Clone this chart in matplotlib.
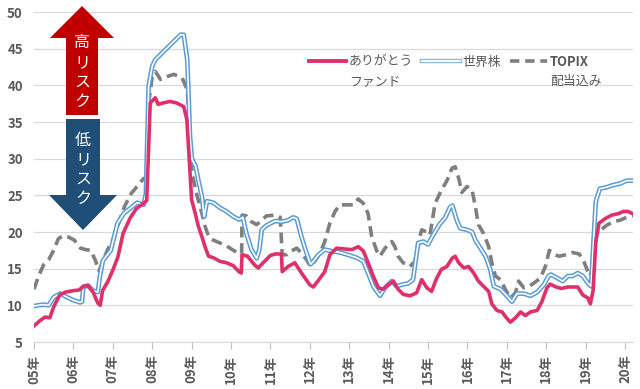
import matplotlib
matplotlib.use("Agg")
import matplotlib.pyplot as plt
from matplotlib.patches import Polygon
from matplotlib.lines import Line2D

plt.rcParams['font.family'] = ['Noto Sans CJK JP', 'DejaVu Sans']

# ---- data (decimal year, volatility %) ----
arigato_t = [2005.0, 2005.15, 2005.28, 2005.4, 2005.5, 2005.65, 2005.8, 2006.0, 2006.15, 2006.25, 2006.37,
             2006.5, 2006.62, 2006.68, 2006.74, 2006.87, 2007.0, 2007.13, 2007.26, 2007.44, 2007.6, 2007.78,
             2007.86, 2007.9, 2007.95, 2008.08, 2008.15, 2008.28, 2008.45, 2008.62, 2008.8, 2008.88, 2008.94,
             2009.0, 2009.09, 2009.17, 2009.26, 2009.34, 2009.43, 2009.55, 2009.72, 2009.89, 2010.06, 2010.2,
             2010.26, 2010.28, 2010.42, 2010.6, 2010.69, 2010.85, 2011.0, 2011.12, 2011.28, 2011.3, 2011.45,
             2011.62, 2011.79, 2012.0, 2012.09, 2012.26, 2012.38, 2012.51, 2012.68, 2012.85, 2013.07, 2013.23,
             2013.36, 2013.48, 2013.61, 2013.74, 2013.86, 2013.99, 2014.12, 2014.24, 2014.37, 2014.54, 2014.71,
             2014.84, 2014.97, 2015.09, 2015.22, 2015.34, 2015.48, 2015.61, 2015.69, 2015.78, 2015.91, 2016.03,
             2016.16, 2016.28, 2016.41, 2016.54, 2016.62, 2016.75, 2016.88, 2016.96, 2017.09, 2017.22, 2017.35,
             2017.47, 2017.6, 2017.77, 2017.89, 2018.02, 2018.1, 2018.25, 2018.38, 2018.55, 2018.8, 2018.93,
             2019.06, 2019.12, 2019.19, 2019.26, 2019.34, 2019.49, 2019.66, 2019.83, 2019.96, 2020.08, 2020.2]
arigato_v = [7.2, 7.9, 8.4, 8.3, 9.8, 11.4, 11.8, 12.0, 12.1, 12.6, 12.7,
             11.8, 10.3, 10.0, 12.0, 13.2, 14.8, 16.6, 19.8, 21.9, 23.2, 23.9,
             24.3, 30.0, 37.6, 38.3, 37.4, 37.6, 37.8, 37.6, 37.1, 35.3, 29.9,
             24.4, 22.6, 20.8, 19.4, 18.0, 16.7, 16.5, 16.0, 15.8, 15.4, 14.6,
             14.4, 16.9, 16.7, 15.5, 15.1, 16.0, 16.8, 17.0, 17.0, 14.6, 15.3,
             15.8, 14.4, 12.8, 12.5, 13.7, 14.6, 16.9, 17.8, 17.7, 17.6, 18.0,
             17.4, 15.8, 14.0, 12.4, 12.2, 12.8, 13.3, 12.2, 11.5, 11.3, 11.7,
             13.5, 12.4, 11.9, 13.7, 14.9, 15.3, 16.4, 16.7, 15.8, 15.1, 15.3,
             14.4, 13.3, 12.6, 11.9, 10.2, 9.3, 9.1, 8.5, 7.7, 8.3, 9.1,
             8.6, 9.1, 9.3, 10.5, 12.4, 12.9, 12.5, 12.3, 12.5, 12.5, 11.4,
             11.0, 10.2, 12.0, 18.7, 21.2, 21.8, 22.3, 22.5, 22.8, 22.8, 22.5]

world_t = [2005.0, 2005.1, 2005.24, 2005.37, 2005.5, 2005.67, 2005.84, 2006.0, 2006.17, 2006.22, 2006.25,
           2006.37, 2006.5, 2006.62, 2006.67, 2006.75, 2006.95, 2007.12, 2007.29, 2007.46, 2007.62, 2007.78,
           2007.84, 2007.91, 2008.0, 2008.08, 2008.21, 2008.38, 2008.55, 2008.72, 2008.8, 2008.89, 2008.96,
           2009.01, 2009.1, 2009.17, 2009.26, 2009.32, 2009.39, 2009.55, 2009.72, 2009.89, 2010.06, 2010.2,
           2010.3, 2010.39, 2010.52, 2010.65, 2010.72, 2010.78, 2010.9, 2011.12, 2011.28, 2011.45, 2011.58,
           2011.67, 2011.79, 2011.92, 2012.02, 2012.09, 2012.22, 2012.38, 2012.55, 2012.77, 2012.9, 2013.02,
           2013.19, 2013.36, 2013.48, 2013.61, 2013.78, 2013.91, 2014.08, 2014.2, 2014.33, 2014.5, 2014.62,
           2014.75, 2014.88, 2015.0, 2015.13, 2015.3, 2015.43, 2015.56, 2015.62, 2015.73, 2015.82, 2015.99,
           2016.12, 2016.2, 2016.33, 2016.46, 2016.58, 2016.67, 2016.84, 2017.0, 2017.13, 2017.26, 2017.43,
           2017.6, 2017.77, 2017.94, 2018.06, 2018.12, 2018.29, 2018.42, 2018.55, 2018.67, 2018.8, 2018.93,
           2019.06, 2019.14, 2019.2, 2019.26, 2019.36, 2019.53, 2019.7, 2019.87, 2020.04, 2020.2]
world_v = [9.9, 10.0, 10.1, 10.0, 11.1, 11.6, 11.1, 10.7, 10.4, 10.5, 12.5,
           12.7, 12.0, 11.8, 13.9, 16.1, 17.5, 21.2, 22.6, 23.3, 24.0, 23.7,
           25.2, 39.9, 42.6, 43.5, 44.2, 45.1, 46.0, 46.9, 46.9, 43.5, 33.0,
           29.9, 29.0, 27.1, 24.9, 22.1, 24.2, 24.0, 23.3, 22.8, 22.1, 21.7,
           22.0, 19.8, 17.6, 16.4, 17.6, 20.3, 20.9, 21.5, 21.4, 21.6, 22.0,
           21.8, 19.3, 17.1, 15.6, 16.0, 16.9, 17.6, 17.4, 17.2, 17.0, 16.8,
           16.5, 16.0, 14.4, 12.6, 11.3, 12.4, 13.3, 12.6, 12.8, 13.0, 13.5,
           18.5, 18.7, 18.3, 19.6, 21.1, 21.9, 23.4, 23.6, 21.6, 20.5, 20.3,
           20.0, 18.9, 17.8, 16.7, 14.9, 12.6, 12.2, 11.3, 10.5, 11.6, 11.6,
           11.3, 11.8, 12.8, 14.0, 14.2, 13.7, 13.3, 14.0, 14.0, 14.4, 14.0,
           13.0, 12.6, 18.7, 24.2, 25.9, 26.1, 26.4, 26.6, 27.0, 27.0]

topix_t = [2005.0, 2005.11, 2005.24, 2005.37, 2005.5, 2005.62, 2005.75, 2005.88, 2006.02, 2006.18, 2006.31,
           2006.44, 2006.56, 2006.65, 2006.74, 2006.86, 2007.03, 2007.16, 2007.29, 2007.46, 2007.63, 2007.78,
           2007.85, 2007.91, 2008.0, 2008.08, 2008.21, 2008.38, 2008.55, 2008.76, 2008.89, 2008.96, 2009.01,
           2009.14, 2009.26, 2009.34, 2009.43, 2009.55, 2009.72, 2009.89, 2010.06, 2010.2, 2010.27, 2010.28,
           2010.39, 2010.52, 2010.65, 2010.78, 2010.9, 2011.12, 2011.25, 2011.3, 2011.41, 2011.53, 2011.67,
           2011.79, 2011.92, 2012.02, 2012.12, 2012.26, 2012.38, 2012.51, 2012.64, 2012.76, 2012.93, 2013.11,
           2013.23, 2013.36, 2013.48, 2013.57, 2013.7, 2013.78, 2013.91, 2014.08, 2014.16, 2014.24, 2014.37,
           2014.54, 2014.67, 2014.75, 2014.84, 2014.97, 2015.05, 2015.18, 2015.34, 2015.48, 2015.61, 2015.69,
           2015.78, 2015.86, 2015.99, 2016.12, 2016.2, 2016.28, 2016.41, 2016.54, 2016.62, 2016.71, 2016.84,
           2016.96, 2017.09, 2017.22, 2017.3, 2017.43, 2017.56, 2017.68, 2017.85, 2017.98, 2018.08, 2018.21,
           2018.33, 2018.5, 2018.67, 2018.84, 2018.97, 2019.1, 2019.19, 2019.27, 2019.4, 2019.53, 2019.7,
           2019.87, 2020.04, 2020.2]
topix_v = [12.2, 13.9, 15.5, 16.2, 17.5, 19.1, 19.5, 19.3, 18.9, 17.8, 17.6,
           17.5, 16.1, 14.7, 15.9, 17.5, 19.3, 21.4, 23.4, 25.2, 26.3, 27.3,
           27.2, 37.6, 41.2, 41.9, 40.8, 41.2, 41.5, 41.0, 39.4, 33.0, 28.0,
           24.9, 22.6, 20.8, 19.4, 18.9, 18.5, 18.1, 17.5, 17.1, 17.0, 22.3,
           22.2, 21.4, 21.0, 21.6, 22.2, 22.3, 22.0, 16.9, 16.9, 17.4, 17.8,
           17.1, 16.2, 15.3, 16.0, 17.1, 18.7, 21.2, 22.8, 23.7, 23.7, 23.7,
           24.5, 23.9, 22.5, 19.4, 17.4, 16.7, 17.8, 18.7, 18.0, 16.7, 15.8,
           15.3, 16.0, 18.5, 20.3, 20.0, 19.6, 23.9, 25.7, 27.0, 28.7, 28.9,
           27.3, 25.4, 26.2, 25.7, 23.5, 21.0, 19.8, 18.0, 15.8, 14.0, 13.5,
           12.2, 11.0, 11.7, 13.3, 12.4, 12.6, 13.0, 13.7, 15.3, 17.5, 16.9,
           16.7, 16.9, 17.2, 17.0, 15.8, 14.0, 14.9, 19.8, 20.3, 20.9, 21.4,
           21.6, 22.0, 22.2]

year_ticks = list(range(2005, 2021))
year_labels = ['%02d年' % (y - 2000) for y in year_ticks]
y_ticks = [5, 10, 15, 20, 25, 30, 35, 40, 45, 50]

legend_first = ['ありがとう', '世界株', 'TOPIX']
legend_second = ['ファンド', '', '配当込み']

# ---- figure ----
W, H = 640, 389
fig = plt.figure(figsize=(W / 100, H / 100), dpi=100)
ax = fig.add_axes([34 / W, 1 - 342 / H, (633 - 34) / W, (342 - 12) / H])

PINK = '#E0306A'
BLUE = '#5B9BD5'
GRAY = '#7F7F7F'
TICKC = '#595959'

ax.plot(topix_t, topix_v, color=GRAY, lw=2.6, dashes=(3.0, 1.6), zorder=3)
ax.plot(world_t, world_v, color=BLUE, lw=3.4, zorder=4, solid_joinstyle='round')
ax.plot(world_t, world_v, color='white', lw=1.2, zorder=5, solid_joinstyle='round')
ax.plot(arigato_t, arigato_v, color=PINK, lw=2.6, zorder=6, solid_joinstyle='round')

ax.set_xlim(2005, 2005 + (633 - 34) / 39.4)
ax.set_ylim(5, 50)
ax.set_yticks(y_ticks)
ax.set_xticks(year_ticks)
ax.set_xticklabels(year_labels, rotation=90)
ax.grid(axis='y', color='#D9D9D9', lw=0.9)
ax.set_axisbelow(True)
for s in ['top', 'right', 'left']:
    ax.spines[s].set_visible(False)
ax.spines['bottom'].set_color('#D9D9D9')
ax.tick_params(axis='y', length=0, pad=8, labelsize=9.5, labelcolor=TICKC)
ax.tick_params(axis='x', length=5, color='#BFBFBF', pad=4, labelsize=9.5, labelcolor=TICKC)
for lab in ax.get_xticklabels() + ax.get_yticklabels():
    lab.set_fontweight('bold')

# ---- legend ----
handles = [Line2D([], [], color=PINK, lw=2.8),
           (Line2D([], [], color='#8FB8DE', lw=3.2), Line2D([], [], color='white', lw=1.4)),
           Line2D([], [], color=GRAY, lw=2.6, dashes=(2.6, 1.6))]
leg = fig.legend(handles, legend_first, loc='upper left', bbox_to_anchor=(297 / W, 1 - 43 / H),
                 ncol=3, frameon=False, fontsize=9.3, handlelength=2.9, handletextpad=0.2,
                 columnspacing=0.7, labelcolor=TICKC)
leg.get_texts()[2].set_fontweight('bold')

fig.canvas.draw()
renderer = fig.canvas.get_renderer()
for txt, second in zip(leg.get_texts(), legend_second):
    if second:
        bb = txt.get_window_extent(renderer)
        fig.text(bb.x0 / W, (bb.y1 - 20) / H, second, color=TICKC, fontsize=9.3,
                 ha='left', va='top')


# ---- risk arrows ----
def px(x, y):
    return (x / W, 1 - y / H)


red_pts = [px(82, 6), px(114, 38), px(98, 38), px(98, 115), px(66, 115), px(66, 38), px(50, 38)]
blue_pts = [px(66, 119), px(100, 119), px(100, 195), px(117, 195), px(83, 230), px(49, 195), px(66, 195)]
fig.add_artist(Polygon(red_pts, closed=True, transform=fig.transFigure, facecolor='#C00000', edgecolor='none'))
fig.add_artist(Polygon(blue_pts, closed=True, transform=fig.transFigure, facecolor='#1F4E79', edgecolor='none'))

for i, ch in enumerate('高リスク'):
    fig.text(*px(82, 43 + i * 19.5), ch, color='white', fontsize=11.5, ha='center', va='center')
for i, ch in enumerate('低リスク'):
    fig.text(*px(83, 140 + i * 19.5), ch, color='white', fontsize=11.5, ha='center', va='center')

fig.savefig('out.png', dpi=100)
